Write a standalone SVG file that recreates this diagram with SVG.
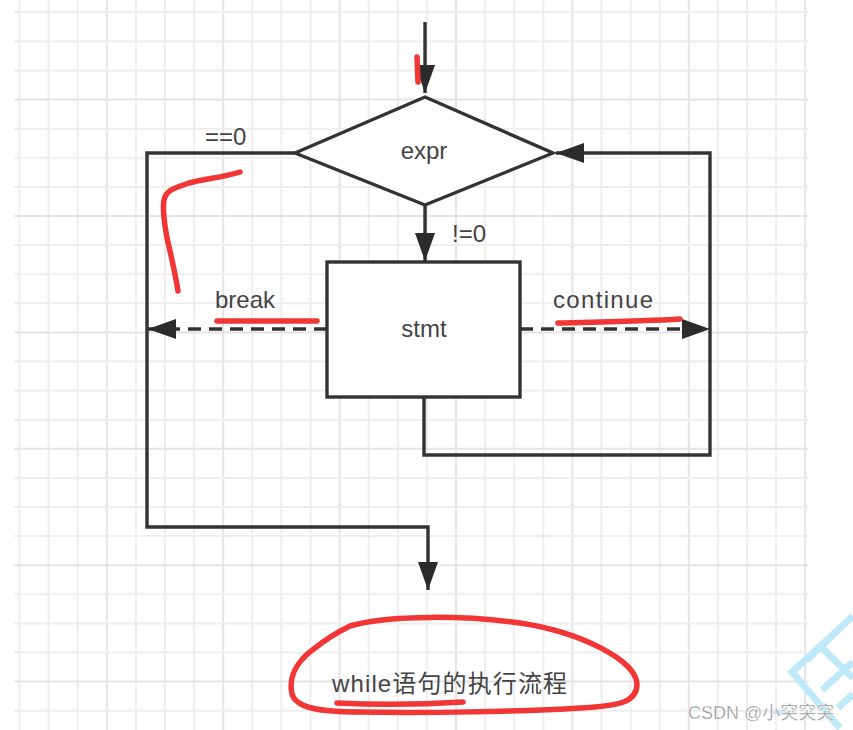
<svg xmlns="http://www.w3.org/2000/svg" width="853" height="730" viewBox="0 0 853 730">
<defs>
<style>
.grid line{stroke:#eeeeee;stroke-width:2}
.grid line.mj{stroke:#e4e4e4}
.edge{fill:none;stroke:#333;stroke-width:3.4}
.dash{stroke-dasharray:13 8}
.shape{fill:#fff;stroke:#333;stroke-width:3.4}
.lbl{font-family:"Liberation Sans","Noto Sans CJK SC",sans-serif;font-size:24px;fill:#444}
.red{fill:none;stroke:#f23535;stroke-width:5.5;stroke-linecap:round;stroke-linejoin:round}
.wm{fill:none;stroke:#bfe9f9;stroke-width:7}
</style>
<marker id="ah" viewBox="0 0 28 20" refX="28" refY="10" markerWidth="28" markerHeight="20" markerUnits="userSpaceOnUse" orient="auto">
<path d="M0,0 L28,10 L0,20 Z" fill="#2b2b2b"/>
</marker>
</defs>
<rect width="853" height="730" fill="#fff"/>
<g class="grid">
<line x1="19.5" y1="0" x2="19.5" y2="730"/>
<line x1="48.6" y1="0" x2="48.6" y2="730"/>
<line x1="77.7" y1="0" x2="77.7" y2="730"/>
<line class="mj" x1="106.8" y1="0" x2="106.8" y2="730"/>
<line x1="135.9" y1="0" x2="135.9" y2="730"/>
<line x1="165" y1="0" x2="165" y2="730"/>
<line x1="194.1" y1="0" x2="194.1" y2="730"/>
<line class="mj" x1="223.2" y1="0" x2="223.2" y2="730"/>
<line x1="252.3" y1="0" x2="252.3" y2="730"/>
<line x1="281.4" y1="0" x2="281.4" y2="730"/>
<line x1="310.5" y1="0" x2="310.5" y2="730"/>
<line class="mj" x1="339.6" y1="0" x2="339.6" y2="730"/>
<line x1="368.7" y1="0" x2="368.7" y2="730"/>
<line x1="397.8" y1="0" x2="397.8" y2="730"/>
<line x1="426.9" y1="0" x2="426.9" y2="730"/>
<line class="mj" x1="456" y1="0" x2="456" y2="730"/>
<line x1="485.1" y1="0" x2="485.1" y2="730"/>
<line x1="514.2" y1="0" x2="514.2" y2="730"/>
<line x1="543.3" y1="0" x2="543.3" y2="730"/>
<line class="mj" x1="572.4" y1="0" x2="572.4" y2="730"/>
<line x1="601.5" y1="0" x2="601.5" y2="730"/>
<line x1="630.6" y1="0" x2="630.6" y2="730"/>
<line x1="659.7" y1="0" x2="659.7" y2="730"/>
<line class="mj" x1="688.8" y1="0" x2="688.8" y2="730"/>
<line x1="717.9" y1="0" x2="717.9" y2="730"/>
<line x1="747" y1="0" x2="747" y2="730"/>
<line x1="776.1" y1="0" x2="776.1" y2="730"/>
<line class="mj" x1="805.2" y1="0" x2="805.2" y2="730"/>
<line x1="14" y1="12.3" x2="808" y2="12.3"/>
<line x1="14" y1="41.4" x2="808" y2="41.4"/>
<line x1="14" y1="70.5" x2="808" y2="70.5"/>
<line class="mj" x1="14" y1="99.6" x2="808" y2="99.6"/>
<line x1="14" y1="128.7" x2="808" y2="128.7"/>
<line x1="14" y1="157.8" x2="808" y2="157.8"/>
<line x1="14" y1="186.9" x2="808" y2="186.9"/>
<line class="mj" x1="14" y1="216" x2="808" y2="216"/>
<line x1="14" y1="245.1" x2="808" y2="245.1"/>
<line x1="14" y1="274.2" x2="808" y2="274.2"/>
<line x1="14" y1="303.3" x2="808" y2="303.3"/>
<line class="mj" x1="14" y1="332.4" x2="808" y2="332.4"/>
<line x1="14" y1="361.5" x2="808" y2="361.5"/>
<line x1="14" y1="390.6" x2="808" y2="390.6"/>
<line x1="14" y1="419.7" x2="808" y2="419.7"/>
<line class="mj" x1="14" y1="448.8" x2="808" y2="448.8"/>
<line x1="14" y1="477.9" x2="808" y2="477.9"/>
<line x1="14" y1="507" x2="808" y2="507"/>
<line x1="14" y1="536.1" x2="808" y2="536.1"/>
<line class="mj" x1="14" y1="565.2" x2="808" y2="565.2"/>
<line x1="14" y1="594.3" x2="808" y2="594.3"/>
<line x1="14" y1="623.4" x2="808" y2="623.4"/>
<line x1="14" y1="652.5" x2="808" y2="652.5"/>
<line class="mj" x1="14" y1="681.6" x2="808" y2="681.6"/>
<line x1="14" y1="710.7" x2="808" y2="710.7"/>
</g>
<g id="connectors">
<path class="edge" d="M425,22 V93" marker-end="url(#ah)"/>
<path class="edge" d="M425,205 V261" marker-end="url(#ah)"/>
<path class="edge" d="M295,153 H147 V527 H428 V590" marker-end="url(#ah)"/>
<path class="edge" d="M424,397 V455 H710 V153 H556" marker-end="url(#ah)"/>
<path class="edge dash" d="M327,329 H148" marker-end="url(#ah)"/>
<path class="edge dash" d="M520,329 H710" marker-end="url(#ah)"/>
<text class="lbl" x="205" y="145">==0</text>
<text class="lbl" x="452" y="242">!=0</text>
<text class="lbl" x="215" y="308">break</text>
<text class="lbl" x="553" y="308" textLength="100">continue</text>
</g>
<g id="decision">
<polygon class="shape" points="295,153 425,97 553,153 425,205"/>
<text class="lbl" x="424" y="158.5" text-anchor="middle">expr</text>
</g>
<g id="process">
<rect class="shape" x="327" y="262" width="193" height="135"/>
<text class="lbl" x="424" y="337" text-anchor="middle">stmt</text>
</g>
<g id="title">
<text class="lbl" x="332" y="692" font-size="25" textLength="235">while语句的执行流程</text>
</g>
<g id="annotations">
<path class="red" d="M417,57 L418,82"/>
<path class="red" d="M240,172 C222,178 200,179 186,184 C175,188 166,190 164,200 C162,212 165,226 167,238 C171,255 175,272 178,291"/>
<path class="red" d="M217,321 L317,321"/>
<path class="red" d="M558,323 C600,322 650,321 680,319"/>
<path class="red" d="M350,626 C390,614 470,616 520,623 C580,632 636,660 637,684 C637,702 620,706 580,708 C520,712 420,713 360,712 C320,712 296,708 292,694 C288,676 298,660 315,648 C325,640 338,632 350,626"/>
<path class="red" d="M337,703 C380,705 430,704 463,702"/>
</g>
<g id="watermark">
<path class="wm" d="M853,616 L792,672 L840,728"/>
<path class="wm" d="M820,646 L853,678"/>
<path class="wm" d="M807,660 L836,632"/>
<path class="wm" d="M822,690 L853,662"/>
<path class="wm" d="M838,708 L853,694"/>
<path d="M773,713 C780,711 786,712 791,716" fill="none" stroke="#bfe9f9" stroke-width="3"/>
<text x="688" y="719" font-family="'Liberation Sans','Noto Sans CJK SC',sans-serif" font-size="18" fill="#8a8a8a" stroke="#fff" stroke-width="0.4">CSDN @小突突突</text>
</g>
</svg>
